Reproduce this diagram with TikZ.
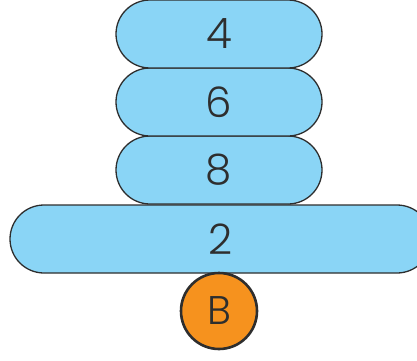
\documentclass[tikz,border=0pt]{standalone}
\usepackage{fontspec}
\setmainfont{Poppins}[UprightFont=* Light]
\definecolor{pillblue}{HTML}{8AD5F6}
\definecolor{ballorange}{HTML}{F6921E}
\definecolor{edgegray}{HTML}{2E2E2E}
\begin{document}
\begin{tikzpicture}[x=1pt,y=1pt,
  pill/.style={draw=edgegray, fill=pillblue, line width=1.3pt, rounded corners=34pt,
    minimum height=68pt, inner sep=0pt, font=\fontsize{42}{42}\selectfont, text=edgegray},
  ball/.style={circle, draw=edgegray, fill=ballorange, line width=2.6pt, minimum size=76pt,
    inner sep=0pt, font=\fontsize{40}{40}\selectfont, text=edgegray}]
\useasboundingbox (0,0) rectangle (417,360);
\clip (0,0) rectangle (417,360);
\node[pill, minimum width=421pt] (p2) at (220.5,121) {2};
\node[pill, minimum width=206pt] (p8) at (219,190) {8};
\node[pill, minimum width=206pt] (p6) at (219,258) {6};
\node[pill, minimum width=206pt] (p4) at (219,326) {4};
\node[ball] (b) at (219,49) {B};
\end{tikzpicture}
\end{document}
